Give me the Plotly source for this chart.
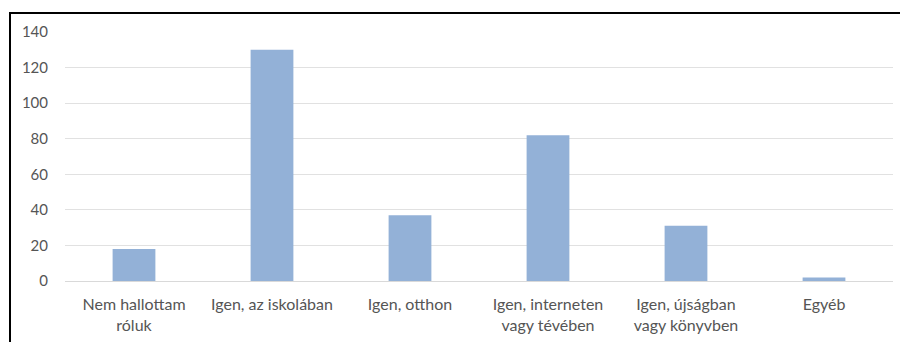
import plotly.graph_objects as go

categories = ["Nem hallottam<br>róluk", "Igen, az iskolában", "Igen, otthon",
              "Igen, interneten<br>vagy tévében", "Igen, újságban<br>vagy könyvben", "Egyéb"]
values = [18, 130, 37, 82, 31, 2]
y_ticks = [0, 20, 40, 60, 80, 100, 120, 140]

W, H = 900, 342
L, R, T, B = 65, 7, 32, 61
pw, ph = W - L - R, H - T - B

fig = go.Figure(go.Bar(x=categories, y=values, marker=dict(color="#93b1d7", line=dict(width=0)),
                       width=0.31))

def px_x(x):
    return (x - L) / pw

def px_y(y):
    return (H - B - y) / ph

fig.update_layout(
    width=W, height=H,
    margin=dict(l=L, r=R, t=T, b=B),
    paper_bgcolor="white", plot_bgcolor="white",
    font=dict(family="Lato, Open Sans, sans-serif", size=16, color="#555555"),
    showlegend=False,
    xaxis=dict(showgrid=False, showline=False, ticks="", tickfont=dict(size=16),
               ticklabelstandoff=12),
    yaxis=dict(range=[0, 140], tickvals=y_ticks, showgrid=True, gridcolor="#e1e1e1",
               gridwidth=1, zeroline=True, zerolinecolor="#d9d9d9", zerolinewidth=1,
               showline=False, ticks="", ticklabelstandoff=16, tickfont=dict(size=15)),
    shapes=[
        dict(type="line", xref="paper", yref="paper", x0=px_x(10), x1=px_x(900),
             y0=px_y(13), y1=px_y(13), line=dict(color="black", width=2)),
        dict(type="line", xref="paper", yref="paper", x0=px_x(10), x1=px_x(10),
             y0=px_y(12), y1=px_y(342), line=dict(color="black", width=2)),
    ],
)

fig.write_html("out.html")
